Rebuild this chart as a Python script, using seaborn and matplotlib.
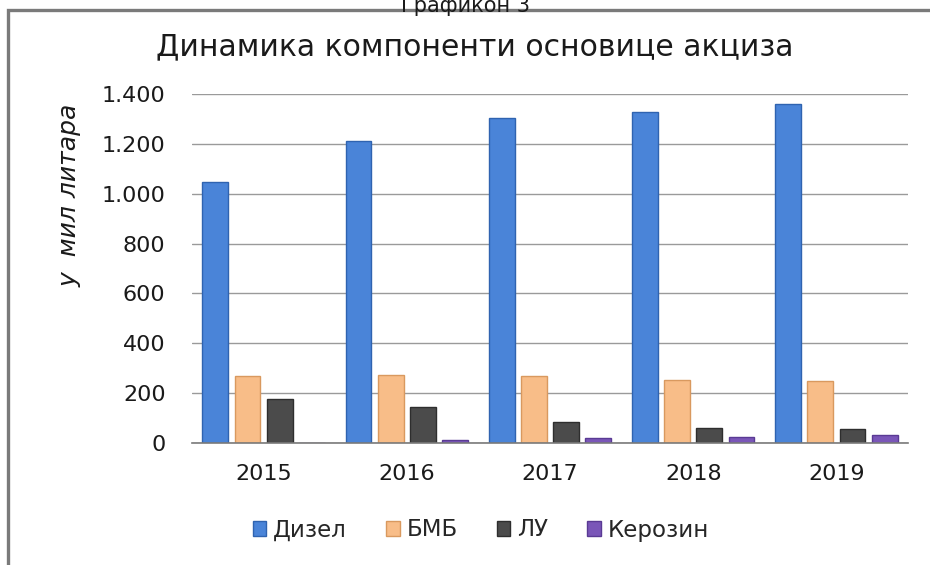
import pandas as pd
import seaborn as sns
import matplotlib.pyplot as plt
from matplotlib.patches import Rectangle

# Подаци (мил литара)
godine = ["2015", "2016", "2017", "2018", "2019"]
dizel = [1047, 1211, 1304, 1328, 1360]
bmb = [269, 273, 269, 253, 249]
lu = [176, 144, 84, 60, 56]
kerozin = [2, 12, 22, 26, 32]

serije = ["Дизел", "БМБ", "ЛУ", "Керозин"]
boje = ["#4a84d8", "#f8bd88", "#4b4b4b", "#7a56b8"]
ivice = ["#2f63b0", "#d9995f", "#2e2e2e", "#5a3a94"]

df = pd.DataFrame({
    "godina": godine * 4,
    "serija": sum([[s] * len(godine) for s in serije], []),
    "vrednost": dizel + bmb + lu + kerozin,
})

sns.set_theme(style="white")
plt.rcParams["font.family"] = ["DejaVu Sans"]

fig = plt.figure(figsize=(9.3, 5.65), dpi=100)
ax = fig.add_axes([192 / 930, 1 - 443 / 565, (908 - 192) / 930, (443 - 94) / 565])

sns.barplot(data=df, x="godina", y="vrednost", hue="serija", hue_order=serije,
            palette=boje, width=0.9, gap=0.2, ax=ax, legend=False, saturation=1)

# ivice stubića
for i, cont in enumerate(ax.containers):
    for bar in cont:
        bar.set_edgecolor(ivice[i])
        bar.set_linewidth(1.0)

ax.set_ylim(0, 1400)
ax.set_yticks(range(0, 1401, 200))
ax.set_yticklabels([f"{v:,}".replace(",", ".") for v in range(0, 1401, 200)])
ax.yaxis.grid(True, color="#9a9a9a", linewidth=1)
ax.set_axisbelow(True)
for s in ["top", "right", "left"]:
    ax.spines[s].set_visible(False)
ax.spines["bottom"].set_color("#7a7a7a")
ax.spines["bottom"].set_linewidth(1.2)
ax.tick_params(axis="both", length=0, labelsize=16, colors="#1a1a1a")
ax.tick_params(axis="y", pad=19)
ax.tick_params(axis="x", pad=15)
ax.set_xlabel("")
ax.set_ylabel("")

fig.text(70 / 930, 1 - 195 / 565, "у  мил литара", rotation=90, style="italic",
         fontsize=18, ha="center", va="center", color="#1a1a1a")
fig.text(475 / 930, 1 - 47 / 565, "Динамика компоненти основице акциза",
         fontsize=21.5, ha="center", va="center", color="#1a1a1a")
fig.text(465 / 930, 1 - 12 / 565, "Графикон 3", fontsize=15, ha="center",
         va="baseline", color="#1a1a1a")

# okvir grafikona
fig.patches.append(Rectangle((8 / 930, -0.05), 1.0, 1 - 10 / 565 + 0.05,
                             transform=fig.transFigure, fill=False,
                             edgecolor="#7a7a7a", linewidth=2.4))

handles = [Rectangle((0, 0), 1, 1, facecolor=c, edgecolor=e) for c, e in zip(boje, ivice)]
fig.legend(handles, serije, loc="center", bbox_to_anchor=(481 / 930, 1 - 530 / 565),
           ncol=4, frameon=False, fontsize=16.5, handlelength=0.6, handleheight=0.6,
           handletextpad=0.3, columnspacing=1.7)

fig.savefig("out.png", dpi=100)
